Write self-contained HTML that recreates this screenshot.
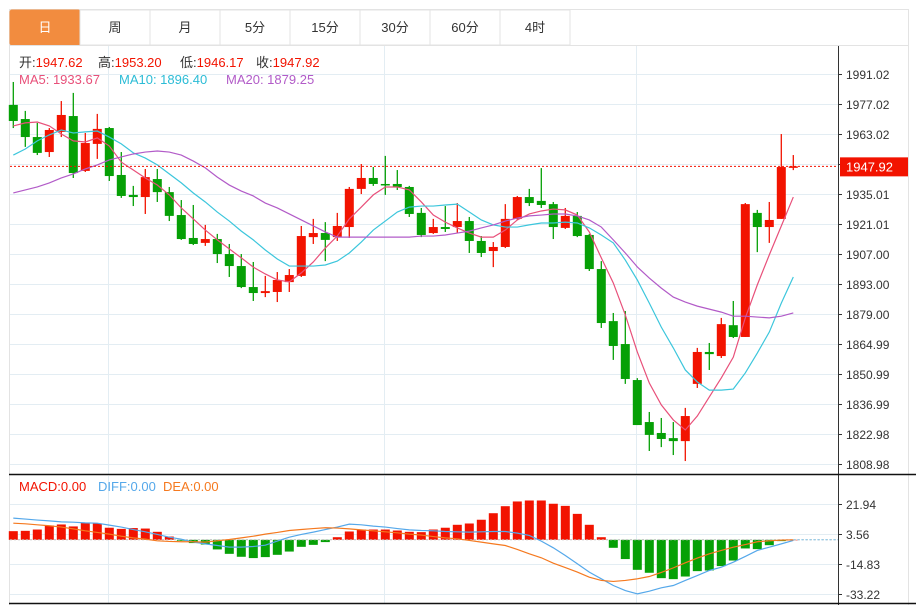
<!DOCTYPE html>
<html><head><meta charset="utf-8"><style>
body{margin:0;background:#fff;width:916px;height:605px;overflow:hidden;font-family:"Liberation Sans","Noto Sans CJK SC",sans-serif;}
svg{position:absolute;left:0;top:0}
</style></head><body>
<svg id="c" width="916" height="605"></svg>
<script>
const opens=[1976.6,1970.0,1961.6,1954.6,1964.0,1971.4,1945.8,1958.4,1965.8,1943.9,1934.6,1933.6,1942.0,1935.9,1925.2,1914.5,1912.2,1914.0,1907.0,1901.4,1891.6,1888.8,1889.3,1893.9,1896.8,1914.9,1916.8,1914.9,1919.6,1937.4,1942.5,1939.7,1939.7,1938.3,1926.2,1916.8,1919.6,1919.6,1922.4,1913.1,1908.4,1910.3,1923.4,1933.6,1931.8,1930.3,1919.2,1924.8,1915.9,1900.0,1875.7,1865.0,1848.2,1828.6,1823.5,1821.1,1819.7,1846.4,1861.3,1859.4,1873.8,1868.3,1926.2,1919.6,1923.4,1947.62];
const highs=[1987.3,1973.8,1968.2,1965.8,1978.4,1982.2,1963.5,1972.4,1966.3,1954.6,1938.8,1946.7,1946.7,1938.3,1932.2,1929.9,1920.6,1916.4,1911.7,1907.0,1903.3,1896.8,1898.6,1900.0,1920.1,1923.4,1921.9,1926.2,1938.3,1949.0,1947.6,1952.8,1946.2,1938.8,1928.5,1923.4,1929.4,1930.8,1924.3,1915.4,1912.6,1930.3,1934.1,1937.4,1947.1,1931.3,1928.5,1926.6,1916.4,1903.7,1879.5,1880.4,1849.1,1833.3,1830.5,1828.6,1835.2,1863.2,1865.5,1877.2,1885.1,1930.8,1927.6,1931.3,1963.0,1953.20];
const lows=[1965.8,1957.0,1953.2,1952.3,1961.6,1942.5,1945.3,1951.4,1941.1,1933.2,1929.4,1925.7,1931.3,1922.4,1913.6,1911.2,1910.8,1902.8,1896.3,1891.1,1885.1,1886.9,1884.6,1889.3,1896.3,1911.7,1903.7,1913.1,1914.5,1935.0,1938.8,1934.6,1936.9,1924.3,1914.9,1916.4,1917.3,1916.8,1907.5,1905.6,1900.9,1909.8,1922.9,1929.4,1928.5,1914.0,1918.7,1914.9,1899.1,1872.5,1857.6,1846.4,1827.2,1815.1,1816.9,1813.2,1810.4,1844.5,1852.9,1858.5,1867.8,1868.3,1907.9,1912.2,1923.4,1946.17];
const closes=[1969.1,1961.6,1954.2,1964.9,1971.9,1944.8,1958.8,1965.4,1943.4,1934.1,1933.6,1942.9,1935.9,1924.8,1914.0,1911.7,1914.0,1907.0,1901.4,1891.6,1888.8,1889.7,1894.9,1897.2,1915.4,1916.8,1913.6,1920.1,1937.4,1942.5,1939.7,1939.2,1938.3,1925.7,1915.9,1919.6,1918.7,1922.4,1913.1,1907.5,1910.3,1923.4,1933.6,1930.8,1929.9,1919.6,1924.8,1915.4,1900.0,1874.8,1864.1,1848.7,1827.2,1822.6,1820.7,1819.7,1831.4,1861.3,1860.3,1874.3,1868.3,1930.3,1919.6,1922.9,1947.6,1947.92];
const ma5=[1966.8,1968.2,1968.6,1966.8,1963.0,1959.8,1959.3,1961.2,1957.4,1949.9,1946.2,1942.5,1939.2,1934.6,1928.5,1923.4,1918.2,1913.6,1909.4,1905.2,1900.9,1897.7,1894.9,1894.0,1898.2,1903.3,1909.8,1915.4,1923.4,1928.9,1934.6,1938.3,1938.3,1936.9,1931.3,1925.2,1921.9,1919.2,1916.8,1914.9,1914.9,1918.2,1922.9,1925.7,1927.1,1928.0,1927.6,1925.2,1917.3,1905.2,1893.5,1878.6,1861.3,1846.8,1836.6,1829.6,1824.9,1831.4,1840.3,1849.2,1858.9,1877.2,1892.6,1906.6,1920.1,1933.6];
const ma10=[1953.2,1956.0,1959.8,1962.6,1964.9,1963.5,1964.0,1964.4,1961.6,1958.4,1954.2,1951.8,1948.6,1944.4,1940.2,1935.5,1931.3,1926.6,1922.4,1917.7,1913.6,1908.9,1904.7,1901.4,1901.4,1901.4,1901.9,1903.7,1907.5,1912.6,1918.2,1922.4,1926.6,1928.9,1929.4,1929.4,1929.9,1930.3,1926.6,1922.9,1920.6,1919.6,1919.6,1920.6,1921.5,1921.5,1921.9,1921.5,1919.2,1915.9,1912.2,1904.2,1894.9,1884.1,1872.9,1863.2,1852.9,1847.3,1843.5,1843.5,1844.0,1851.5,1860.8,1870.6,1884.1,1896.3];
const ma20=[1935.5,1936.9,1938.3,1940.2,1942.5,1944.4,1946.7,1948.6,1950.9,1952.3,1953.7,1954.6,1955.1,1954.6,1953.2,1950.4,1947.2,1942.9,1939.2,1936.4,1934.1,1930.8,1928.5,1925.7,1922.9,1920.1,1917.3,1914.9,1914.9,1914.9,1914.9,1914.9,1914.9,1914.9,1915.4,1915.4,1915.9,1916.8,1917.7,1919.2,1920.6,1922.4,1923.8,1924.8,1925.2,1925.7,1925.7,1924.8,1922.9,1919.6,1913.6,1907.5,1901.0,1895.8,1891.1,1886.9,1884.6,1882.7,1881.3,1879.9,1878.0,1878.0,1877.6,1877.2,1878.0,1879.5];
const macd=[5.3,5.5,6.3,8.8,9.4,8.2,10.4,10.0,7.4,6.7,7.2,6.9,4.9,2.0,-0.6,-2.0,-2.9,-5.9,-8.6,-10.4,-11.2,-10.6,-9.2,-7.2,-4.3,-3.1,-1.4,1.6,5.1,6.3,6.3,6.3,5.7,4.9,4.7,6.3,7.4,9.2,10.0,12.3,16.3,20.6,23.5,24.1,24.1,22.1,20.8,15.9,9.2,1.6,-4.9,-11.8,-18.4,-20.2,-23.5,-24.1,-22.5,-19.2,-18.8,-16.1,-12.7,-5.3,-5.7,-3.3,-0.8,0];
const diff=[13.3,12.7,12.1,11.6,11.0,10.8,10.4,10.2,9.0,7.8,6.3,4.9,3.3,1.6,0.4,-1.4,-2.5,-3.5,-4.5,-4.5,-4.1,-3.3,-0.8,1.6,3.3,4.7,6.3,7.8,9.6,9.2,8.4,7.8,6.9,6.1,5.7,5.5,5.1,4.9,4.7,4.9,5.1,5.1,4.1,2.7,-0.8,-4.9,-9.6,-14.7,-19.8,-23.9,-28.0,-31.1,-33.1,-31.5,-29.4,-28.0,-24.9,-21.9,-18.8,-16.8,-13.7,-10.2,-6.5,-4.5,-2.5,-0.4];
const dea=[10.2,9.8,9.2,8.6,7.8,6.7,5.5,4.5,3.5,2.2,1.2,0.4,-0.6,-1.0,-1.2,-1.2,-1.4,-0.6,0.2,1.2,2.2,3.5,4.5,5.7,6.3,6.9,7.4,7.2,6.7,6.1,5.5,4.9,4.3,3.5,2.9,2.0,1.2,0.6,-0.4,-1.4,-2.5,-3.5,-5.9,-8.6,-11.0,-14.3,-17.0,-19.8,-22.9,-24.9,-25.5,-24.9,-23.9,-22.5,-20.0,-17.2,-14.1,-11.2,-8.6,-6.5,-4.5,-2.9,-1.2,-0.6,-0.2,0];
const priceTicks=["1991.02","1977.02","1963.02","1949.02","1935.01","1921.01","1907.00","1893.00","1879.00","1864.99","1850.99","1836.99","1822.98","1808.98"];
const macdTicks=["21.94","3.56","-14.83","-33.22"];
const tabs=["日","周","月","5分","15分","30分","60分","4时"];

const NS="http://www.w3.org/2000/svg";
const svg=document.getElementById('c');
function mk(tag,attrs,parent){const e=document.createElementNS(NS,tag);for(const k in attrs)e.setAttribute(k,attrs[k]);(parent||svg).appendChild(e);return e;}
const xOf=i=>13.3+12*i;
const yP=p=>74+(1991.02-p)*30/14;
const yM=v=>534+(3.56-v)*30/18.385;

let r=mk('rect',{x:9.5,y:9.5,width:899,height:600,fill:'none',stroke:'#e3e3e3'});

tabs.forEach((t,i)=>{
  const g=mk('g',{});
  
  
  mk('rect',{x:10+70*i,y:10,width:70,height:35,fill:i==0?'#f28c3f':'#fff',stroke:i==0?'#f28c3f':'#e3e3e3',rx:i==0?2:0},g);
  const tx=mk('text',{x:45+70*i,y:32,'text-anchor':'middle','font-size':13,fill:i==0?'#fff':'#333'},g);tx.textContent=t;
});
mk('line',{x1:10,y1:45.5,x2:908,y2:45.5,stroke:'#e3e3e3'});
priceTicks.forEach((t,i)=>{const y=74+30*i+0.5;
  mk('line',{x1:10,y1:y,x2:838,y2:y,stroke:'#e3edf3'});
  mk('line',{x1:838,y1:y,x2:842,y2:y,stroke:'#333'});
  const tx=mk('text',{x:846,y:y+4.5,'font-size':12,fill:'#333'});tx.textContent=t;
  
});
[108.5,384.5,636.5].forEach(x=>{mk('line',{x1:x,y1:46,x2:x,y2:474,stroke:'#e3edf3'});mk('line',{x1:x,y1:476,x2:x,y2:603,stroke:'#e3edf3'});});
macdTicks.forEach((t,i)=>{const y=504+30*i+0.5;
  mk('line',{x1:10,y1:y,x2:838,y2:y,stroke:'#e3edf3'});
  mk('line',{x1:838,y1:y,x2:842,y2:y,stroke:'#333'});
  const tx=mk('text',{x:846,y:y+4.5,'font-size':12,fill:'#333'});tx.textContent=t;
  
});
mk('line',{x1:838.5,y1:46,x2:838.5,y2:605,stroke:'#333'});
mk('line',{x1:9,y1:474.5,x2:916,y2:474.5,stroke:'#111','stroke-width':1.5});
mk('line',{x1:9,y1:603.5,x2:916,y2:603.5,stroke:'#111','stroke-width':1.5});
const RED='#f21300',GRN='#06a006';
opens.forEach((o,i)=>{const c=closes[i];const col=c>=o?RED:GRN;const x=xOf(i);
  const g=mk('g',{});
  
  
  mk('line',{x1:x,y1:yP(highs[i]),x2:x,y2:yP(lows[i]),stroke:col,'stroke-width':1.3},g);
  const t=yP(Math.max(o,c)),b=yP(Math.min(o,c));
  mk('rect',{x:x-4.5,y:t,width:9,height:Math.max(1.5,b-t),fill:col},g);
});
function line(arr,yf,col,name){const p=mk('polyline',{points:arr.map((v,i)=>xOf(i)+','+yf(v)).join(' '),fill:'none',stroke:col,'stroke-width':1.2});
  }
line(ma5,yP,'#e8507a','ma5-line');line(ma10,yP,'#3cc6dc','ma10-line');line(ma20,yP,'#b25bc8','ma20-line');
const ly=yP(closes[closes.length-1]);
mk('line',{x1:10,y1:ly,x2:838,y2:ly,stroke:'#f21300','stroke-dasharray':'2,2'});
const pb=mk('g',{});
mk('rect',{x:840,y:ly-9,width:68,height:19,fill:'#f21300'},pb);
const pt=mk('text',{x:846,y:ly+5,'font-size':13,fill:'#fff'},pb);pt.textContent=closes[closes.length-1].toFixed(2);
const z=yM(0);
macd.forEach((v,i)=>{const y=yM(v);const b=mk('rect',{x:xOf(i)-4.5,y:Math.min(y,z),width:9,height:Math.max(0.5,Math.abs(y-z)),fill:v>=0?RED:GRN});
  });
mk('line',{x1:10,y1:z,x2:838,y2:z,stroke:'#bbb','stroke-dasharray':'2,2'});
mk('line',{x1:xOf(65),y1:z,x2:838,y2:z,stroke:'#7ec8ee','stroke-dasharray':'2,2'});
line(diff,yM,'#55a8ea','diff-line');line(dea,yM,'#f5791f','dea-line');
function lg(x,y,parts,name){const t=mk('text',{x:x,y:y,'font-size':13});
  parts.forEach(([s,c])=>{const ts=mk('tspan',{fill:c},t);ts.textContent=s;});}
lg(19,67,[["开:","#333"],["1947.62","#f21300"]],'open-legend');
lg(98,67,[["高:","#333"],["1953.20","#f21300"]],'high-legend');
lg(180,67,[["低:","#333"],["1946.17","#f21300"]],'low-legend');
lg(256,67,[["收:","#333"],["1947.92","#f21300"]],'close-legend');
lg(19,84,[["MA5: 1933.67","#e8507a"]],'ma5-legend');
lg(119,84,[["MA10: 1896.40","#2bbcd6"]],'ma10-legend');
lg(226,84,[["MA20: 1879.25","#b25bc8"]],'ma20-legend');
lg(19,491,[["MACD:0.00","#f21300"]],'macd-legend');
lg(98,491,[["DIFF:0.00","#55a8ea"]],'diff-legend');
lg(163,491,[["DEA:0.00","#f5791f"]],'dea-legend');
</script>
</body></html>
